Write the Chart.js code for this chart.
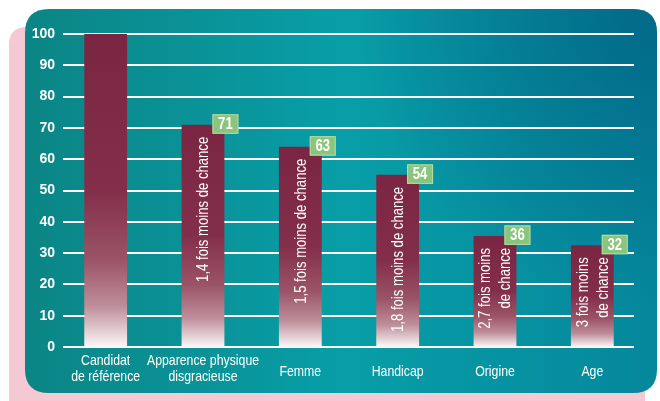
<!DOCTYPE html>
<html>
<head>
<meta charset="utf-8">
<style>
  html, body { margin: 0; padding: 0; background: #fff; }
  #wrap { position: relative; width: 660px; height: 401px; }
</style>
<script src="https://cdn.jsdelivr.net/npm/chart.js@4.4.1/dist/chart.umd.min.js"></script>
</head>
<body>
<div id="wrap"><canvas id="chart_discrimination"></canvas></div>
<script>
var categories = [['Candidat', 'de référence'], ['Apparence physique', 'disgracieuse'], 'Femme', 'Handicap', 'Origine', 'Age'];
var values = [100, 71, 64, 55, 35.5, 32.5];
var badges = ['', '71', '63', '54', '36', '32'];
var barTexts = [
    [],
    ['1,4 fois moins de chance'],
    ['1,5 fois moins de chance'],
    ['1,8 fois moins de chance'],
    ['2,7 fois moins', 'de chance'],
    ['3 fois moins', 'de chance']
];
var yMin = 0, yMax = 100, yStep = 10;

// no condensed face installed: squeeze Liberation Sans horizontally instead
var sans = "'Liberation Sans', Arial, sans-serif";
var squeeze = 0.82;

function roundRect(ctx, x, y, w, h, r) {
    ctx.beginPath();
    ctx.moveTo(x + r, y);
    ctx.lineTo(x + w - r, y);
    ctx.quadraticCurveTo(x + w, y, x + w, y + r);
    ctx.lineTo(x + w, y + h - r);
    ctx.quadraticCurveTo(x + w, y + h, x + w - r, y + h);
    ctx.lineTo(x + r, y + h);
    ctx.quadraticCurveTo(x, y + h, x, y + h - r);
    ctx.lineTo(x, y + r);
    ctx.quadraticCurveTo(x, y, x + r, y);
    ctx.closePath();
}

function narrowText(ctx, text, x, y) {
    ctx.save();
    ctx.translate(x, y);
    ctx.scale(squeeze, 1);
    ctx.fillText(text, 0, 0);
    ctx.restore();
}

// bar fill: dark wine at the top, fading to white at the base
function barFill(context) {
    var chart = context.chart;
    var y = chart.scales.y;
    if (!y || !chart.chartArea) return '#7b2644';
    var top = y.getPixelForValue(context.raw), base = y.getPixelForValue(0);
    var g = chart.ctx.createLinearGradient(0, top, 0, base);
    g.addColorStop(0, '#7a2643');
    g.addColorStop(0.5, '#832f4b');
    g.addColorStop(0.72, '#9b5367');
    g.addColorStop(0.87, '#be8e9b');
    g.addColorStop(1, '#fbf7f8');
    return g;
}

var chart_discrimination = new Chart(document.getElementById('chart_discrimination'), {
    type: 'bar',
    data: {
        labels: categories,
        datasets: [{
            data: values,
            backgroundColor: barFill,
            borderWidth: 0,
            categoryPercentage: 1,
            barPercentage: 0.44
        }]
    },
    options: {
        animation: false,
        responsive: true,
        maintainAspectRatio: false,
        layout: { padding: { left: 0, top: 34, right: 19, bottom: 0 } },
        plugins: {
            legend: { display: false },
            tooltip: { enabled: false }
        },
        scales: {
            x: {
                grid: { display: false, drawTicks: false },
                border: { display: false },
                ticks: { display: false },
                afterFit: function (s) { s.height = 54; }
            },
            y: {
                min: yMin,
                max: yMax,
                grid: { display: false, drawTicks: false },
                border: { display: false },
                ticks: {
                    stepSize: yStep,
                    color: '#ffffff',
                    font: { family: sans, size: 14, weight: 'bold' },
                    padding: 2
                },
                afterFit: function (s) { s.width = 57; }
            }
        }
    },
    plugins: [{
        id: 'panel',
        beforeDraw: function (chart) {
            var ctx = chart.ctx;
            var W = chart.width, H = chart.height;
            ctx.save();
            ctx.fillStyle = '#ffffff';
            ctx.fillRect(0, 0, W, H);
            // pink card behind
            ctx.fillStyle = '#f4c9d3';
            roundRect(ctx, 9, 27, 636, 390, 18);
            ctx.fill();
            // teal card
            var g = ctx.createLinearGradient(25, 0, 657, 0);
            g.addColorStop(0, '#0b8585');
            g.addColorStop(0.5, '#089ea7');
            g.addColorStop(1, '#05879c');
            ctx.fillStyle = g;
            roundRect(ctx, 25, 9, 632, 384, 24);
            ctx.fill();
            var r = ctx.createRadialGradient(657, 9, 0, 657, 9, 300);
            r.addColorStop(0, 'rgba(0,95,130,0.75)');
            r.addColorStop(1, 'rgba(0,95,130,0)');
            ctx.fillStyle = r;
            roundRect(ctx, 25, 9, 632, 384, 24);
            ctx.fill();
            ctx.restore();
        },
        beforeDatasetsDraw: function (chart) {
            var ctx = chart.ctx, y = chart.scales.y, a = chart.chartArea;
            ctx.save();
            ctx.strokeStyle = '#ffffff';
            ctx.lineWidth = 2;
            y.ticks.forEach(function (t) {
                var py = Math.round(y.getPixelForValue(t.value));
                ctx.beginPath();
                ctx.moveTo(a.left + 6, py);
                ctx.lineTo(a.right - 7, py);
                ctx.stroke();
            });
            ctx.restore();
        },
        afterDatasetsDraw: function (chart) {
            var ctx = chart.ctx;
            var meta = chart.getDatasetMeta(0);
            var xs = chart.scales.x;
            ctx.save();
            // category labels
            ctx.fillStyle = '#ffffff';
            ctx.font = '15px ' + sans;
            ctx.textAlign = 'center';
            ctx.textBaseline = 'middle';
            categories.forEach(function (c, i) {
                var px = xs.getPixelForTick(i);
                var base = xs.top;
                if (Array.isArray(c)) {
                    narrowText(ctx, c[0], px, base + 14);
                    narrowText(ctx, c[1], px, base + 30);
                } else {
                    narrowText(ctx, c, px, base + 25);
                }
            });
            meta.data.forEach(function (bar, i) {
                var lines = barTexts[i];
                if (lines.length) {
                    ctx.save();
                    ctx.translate(bar.x, bar.y);
                    ctx.rotate(-Math.PI / 2);
                    ctx.fillStyle = '#ffffff';
                    ctx.font = '16px ' + sans;
                    ctx.textAlign = 'right';
                    ctx.textBaseline = 'middle';
                    var n = lines.length;
                    lines.forEach(function (line, j) {
                        var off = (j - (n - 1) / 2) * 20 + 1;
                        narrowText(ctx, line, -12, off);
                    });
                    ctx.restore();
                }
                if (badges[i]) {
                    var bx = bar.x + bar.width / 2 - 12;
                    var by = bar.y - 10.5;
                    ctx.fillStyle = '#8bc47c';
                    ctx.fillRect(bx, by, 26, 19.5);
                    ctx.strokeStyle = 'rgba(190,228,178,0.8)';
                    ctx.lineWidth = 1;
                    ctx.strokeRect(bx + 0.5, by + 0.5, 25, 18.5);
                    ctx.fillStyle = '#ffffff';
                    ctx.font = 'bold 16px ' + sans;
                    ctx.textAlign = 'center';
                    ctx.textBaseline = 'middle';
                    narrowText(ctx, badges[i], bx + 13, by + 10.5);
                }
            });
            ctx.restore();
        }
    }]
});
</script>
</body>
</html>
